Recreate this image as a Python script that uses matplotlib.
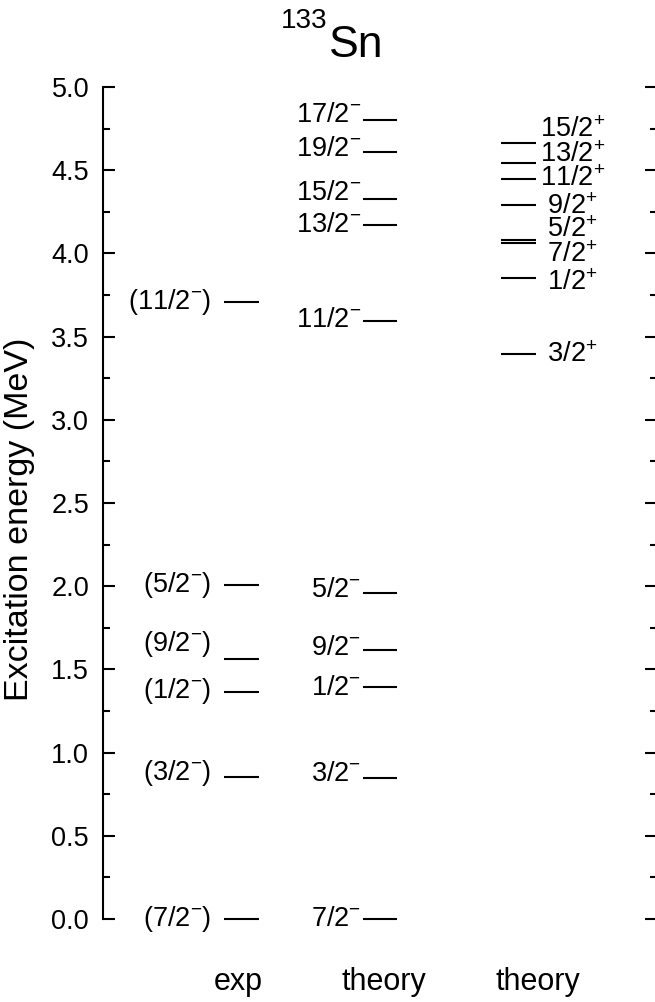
import matplotlib
matplotlib.use("Agg")
import matplotlib.pyplot as plt
from matplotlib.ticker import MultipleLocator

plt.rcParams['font.family'] = ['Liberation Sans', 'DejaVu Sans']
plt.rcParams['mathtext.fontset'] = 'custom'
plt.rcParams['mathtext.rm'] = 'Liberation Sans'
plt.rcParams['mathtext.it'] = 'Liberation Sans:italic'
plt.rcParams['mathtext.bf'] = 'Liberation Sans:bold'

# experiment, negative parity (MeV)
exp_spin = ["7/2", "3/2", "1/2", "9/2", "5/2", "11/2"]
exp_energy = [0.0, 0.854, 1.363, 1.561, 2.005, 3.71]
exp_label_y = [0.0, 0.88, 1.37, 1.65, 2.01, 3.71]

# theory, negative parity
neg_spin = ["7/2", "3/2", "1/2", "9/2", "5/2", "11/2", "13/2", "15/2", "19/2", "17/2"]
neg_energy = [0.0, 0.847, 1.394, 1.617, 1.959, 3.593, 4.170, 4.327, 4.610, 4.802]
neg_label_y = [0.0, 0.87, 1.39, 1.63, 1.98, 3.60, 4.17, 4.36, 4.63, 4.83]

# theory, positive parity
pos_spin = ["3/2", "1/2", "7/2", "5/2", "9/2", "11/2", "13/2", "15/2"]
pos_energy = [3.395, 3.850, 4.063, 4.080, 4.291, 4.445, 4.541, 4.662]
pos_label_y = [3.39, 3.82, 3.99, 4.14, 4.28, 4.447, 4.59, 4.742]

col_names = ["exp", "theory", "theory"]

fs = 19.5
half = 0.126

fig = plt.figure(figsize=(6.55, 10.02), dpi=100)
ax = fig.add_axes([103/655, 83/1002, 554/655, 832/1002])

for i in range(len(exp_energy)):
    ax.plot([1-half, 1+half], [exp_energy[i]]*2, color='k', lw=1.5,
            solid_capstyle='butt', clip_on=False)
    ax.text(1-half-0.09, exp_label_y[i], "(" + exp_spin[i] + "$^{-}$)",
            ha='right', va='center', fontsize=fs)

for i in range(len(neg_energy)):
    ax.plot([2-half, 2+half], [neg_energy[i]]*2, color='k', lw=1.5,
            solid_capstyle='butt', clip_on=False)
    ax.text(2-half-0.01, neg_label_y[i], neg_spin[i] + "$^{-}$",
            ha='right', va='center', fontsize=fs)

for i in range(len(pos_energy)):
    ax.plot([3-half, 3+half], [pos_energy[i]]*2, color='k', lw=1.5,
            solid_capstyle='butt', clip_on=False)
    lab = pos_spin[i] if len(pos_spin[i]) > 3 else " " + pos_spin[i]
    ax.text(3+half+0.03, pos_label_y[i], lab + "$^{+}$",
            ha='left', va='center', fontsize=fs)

for i, name in enumerate(col_names):
    ax.text([0.98, 2.03, 3.14][i], -0.0853, name, transform=ax.get_xaxis_transform(),
            ha='center', va='baseline', fontsize=22)

ax.set_xlim(0, 4)
ax.set_ylim(0, 5)
ax.set_xticks([])
ax.yaxis.set_major_locator(MultipleLocator(0.5))
ax.yaxis.set_minor_locator(MultipleLocator(0.25))
ax.tick_params(which='both', direction='in', left=True, right=True, width=1.5)
ax.tick_params(which='major', length=8.5, labelsize=fs, pad=10)
ax.tick_params(which='minor', length=5)
ax.spines['top'].set_visible(False)
ax.spines['bottom'].set_visible(False)
ax.spines['left'].set_linewidth(1.5)
ax.spines['right'].set_linewidth(1.5)

fig.text(20/655, 1-519/1002, "Excitation energy (MeV)", rotation=90,
         ha='center', va='center', fontsize=24.5)
fig.text(327/655, 1-28/1002, "133", ha='right', va='baseline', fontsize=20)
fig.text(329/655, 1-57/1002, "Sn", ha='left', va='baseline', fontsize=32)

fig.savefig("out.png", dpi=100)
